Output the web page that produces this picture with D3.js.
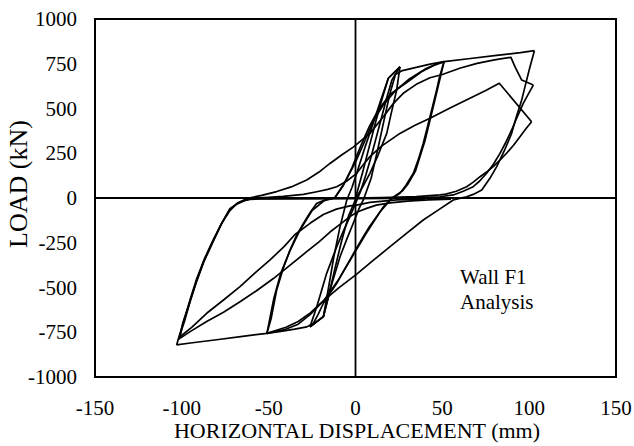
<!DOCTYPE html>
<html>
<head>
<meta charset="utf-8">
<script src="https://cdn.jsdelivr.net/npm/d3@7"></script>
<style>
  html, body { margin: 0; padding: 0; background: #fff; }
  svg { display: block; }
  text { font-family: "Liberation Serif", "Times New Roman", serif; fill: #000; }
</style>
</head>
<body>
<svg id="chart" width="634" height="446"></svg>
<script>
// Axis tick values
const xTicks = [-150, -100, -50, 0, 50, 100, 150];
const yTicks = [-1000, -750, -500, -250, 0, 250, 500, 750, 1000];

// Load-displacement branches, [displacement mm, load kN]
// ±25 mm cycles
const c25Load = [[0,0],[4,140],[8,290],[12,440],[15.5,560],[18.9,669],[25.6,733]];
const c25Down1 = [[25.6,733],[23.7,603],[20.5,470],[18,361],[13,240],[8.3,138],[4,60],[0.7,7],[-4,-100],[-8,-240],[-12,-400],[-15.5,-550],[-18.5,-663],[-26.2,-719]];
const c25Up1 = [[-26.2,-719],[-22.3,-607],[-16.6,-421],[-10.8,-272],[-7,-185],[-3.2,-104],[0,-30],[3,40],[6,130],[9,230],[12,340],[15,450],[18,560],[21,660],[25.6,733]];
const c25Down2 = [[25.6,733],[18.9,669],[14,530],[10.2,417],[5,270],[0.7,138],[-2,60],[-5,-11],[-8.9,-160],[-12.5,-330],[-15.5,-500],[-18.5,-663],[-26.2,-719]];
const c25Up2 = [[-26.2,-719],[-18.5,-663],[-14.7,-514],[-8.9,-328],[-5,-230],[-1.3,-141],[2,-60],[4.5,-11],[9,110],[13,280],[17,460],[20,590],[23,690],[27,712],[35,730],[43,748],[51,762]];

// ±50 mm cycles
const c50Down1 = [[51,762],[48.5,680],[46.7,603],[42.9,454],[39,305],[36,210],[33.3,138],[29,70],[25.6,26],[19.9,-11],[16,-50],[12.2,-104],[8,-160],[4.5,-216],[0,-290],[-3.2,-346],[-7,-410],[-10.8,-477],[-14.5,-530],[-18.5,-588],[-21.5,-650],[-24.3,-700],[-28,-720],[-35,-733],[-43,-745],[-51,-756]];
const c50Up1 = [[-51,-756],[-48.5,-670],[-45.4,-514],[-41.5,-390],[-37.7,-291],[-34,-210],[-30,-142],[-26,-80],[-22.3,-30],[-16,-5],[-12,0],[-7,70],[-2,170],[3,290],[8,400],[13,490],[20,580],[29.5,645],[38,705],[45,740],[51,762]];
const c50Down2 = [[51,762],[47.5,620],[43.8,470],[40,320],[34.5,150],[30,75],[27,40],[21,0],[14,-80],[6,-200],[-2,-330],[-10,-460],[-18,-570],[-26,-650],[-33,-705],[-40.6,-735],[-51,-756]];
const c50Up2 = [[-51,-756],[-47,-560],[-43,-420],[-38,-300],[-32,-180],[-25,-70],[-18,-15],[-12,0],[-6,90],[0,200],[5,310],[10.2,430],[16,520],[23,600],[31,665],[40,720],[47,750],[51,762],[65,778],[80,795],[95,812],[103,823]];

// ±100 mm cycles
const c100Down1 = [[103,823],[100,715],[97.6,622],[95.7,547],[92.5,450],[89.9,361],[85.5,260],[81.3,175],[77.4,110],[72.7,45],[67.8,20],[64,7],[60,-2],[56.3,-11],[48,-65],[39,-123],[29,-200],[19.9,-272],[10,-350],[0.7,-425],[-10,-505],[-18.5,-575],[-26,-642],[-33,-690],[-40,-722],[-51,-756],[-65,-773],[-80,-792],[-95,-810],[-103,-821]];
const c100Up1 = [[-103,-821],[-99,-690],[-95,-560],[-91.4,-450],[-87,-340],[-82,-235],[-77,-140],[-72.3,-70],[-68,-28],[-63.6,-8],[-60,3],[-54,15],[-45.4,36],[-37,62],[-28.1,101],[-21,145],[-14.7,193],[-8,240],[-1.3,284],[8.3,361],[16,454],[22,530],[27.5,585],[35,635],[42.9,672],[50,690],[60,725],[70,752],[80,772],[89.5,786],[92,730],[95.7,659],[102.4,631]];
const c100Down2 = [[102.4,631],[99.5,580],[96.6,529],[93,450],[89.9,380],[86.5,310],[83.2,249],[79.5,190],[75.5,138],[71.5,95],[67.8,63],[62,38],[56.3,17],[48.6,7],[35,2],[20,-2],[0,-4],[-20,-4],[-40,-3],[-55,-3],[-60,-5],[-63.6,-12],[-68,-30],[-72.3,-60],[-77,-140],[-82,-240],[-87,-345],[-91.4,-460],[-95,-570],[-98.5,-690],[-102,-790]];
const c100Up2 = [[-102,-790],[-95,-745],[-85.7,-690],[-76,-638],[-66.5,-580],[-57,-518],[-47.3,-450],[-38,-378],[-28.1,-300],[-21,-245],[-14.7,-190],[-8,-140],[-3.2,-104],[1,-78],[6.4,-58],[12,-40],[20,-27],[30,-17],[42,-10],[55,-6]];
const c100Up3 = [[-62,-2],[-50,4],[-41.6,9],[-30,20],[-22.3,35],[-16,48],[-10.8,63],[-5,95],[0.7,138],[4,180],[8.3,231],[15,290],[25.6,361],[34,405],[42.9,445],[55,505],[65.9,557],[75,600],[82.8,641],[101.4,426]];
const c100Down3 = [[101.4,426],[98,385],[94.7,342],[91,295],[87,250],[83,210],[79.3,175],[75.5,145],[71.7,119],[68,90],[64,63],[58,38],[52,22],[48.6,17],[35,8],[15,2],[-10,-2],[-35,-4],[-55,-5],[-61,-8],[-64,-15],[-68.5,-35],[-72.5,-65],[-77.5,-150],[-82.5,-255],[-87.5,-360],[-92,-480],[-96,-600],[-99.5,-700],[-101,-775]];
const c100Up4 = [[-101,-775],[-94,-720],[-85.7,-644],[-76,-570],[-66.5,-495],[-58,-420],[-49.2,-346],[-41,-270],[-35,-205],[-26,-140],[-18.5,-92],[-11,-62],[-3.2,-44],[0.7,-40],[8.3,-24],[23.7,-11],[40,-6]];

const branches = [
  c25Load, c25Down1, c25Up1, c25Down2, c25Up2,
  c50Down1, c50Up1, c50Down2, c50Up2,
  c100Down1, c100Up1, c100Down2, c100Up2, c100Up3, c100Down3, c100Up4
];

const svg = d3.select("#chart");
const plot = { left: 95, right: 616, top: 19, bottom: 377 };

const x = d3.scaleLinear().domain([-150, 150]).range([plot.left, plot.right]);
const y = d3.scaleLinear().domain([-1000, 1000]).range([plot.bottom, plot.top]);

// Tick labels
svg.append("g").selectAll("text").data(yTicks).join("text")
  .attr("x", 77).attr("y", d => y(d))
  .attr("text-anchor", "end").attr("dominant-baseline", "central")
  .style("font-size", "21px")
  .text(d => d);

svg.append("g").selectAll("text").data(xTicks).join("text")
  .attr("x", d => x(d)).attr("y", 415)
  .attr("text-anchor", "middle")
  .style("font-size", "21px")
  .text(d => d);

// Axis titles
svg.append("text")
  .attr("x", 357).attr("y", 438)
  .attr("text-anchor", "middle")
  .style("font-size", "22px")
  .text("HORIZONTAL DISPLACEMENT (mm)");

svg.append("text")
  .attr("transform", `translate(27,184) rotate(-90)`)
  .attr("text-anchor", "middle")
  .style("font-size", "26px")
  .text("LOAD (kN)");

// Hysteresis curves
const line = d3.line().x(d => x(d[0])).y(d => y(d[1])).curve(d3.curveLinear);
svg.append("g")
  .selectAll("path").data(branches).join("path")
  .attr("d", line)
  .attr("fill", "none").attr("stroke", "#000")
  .attr("stroke-width", 1.7).attr("stroke-linejoin", "round");

// Zero axes
svg.append("line")
  .attr("x1", plot.left).attr("x2", plot.right)
  .attr("y1", y(0)).attr("y2", y(0))
  .attr("stroke", "#000").attr("stroke-width", 2);
svg.append("line")
  .attr("x1", x(0)).attr("x2", x(0))
  .attr("y1", plot.top).attr("y2", plot.bottom)
  .attr("stroke", "#000").attr("stroke-width", 1.8);

// Plot frame
svg.append("rect")
  .attr("x", plot.left).attr("y", plot.top)
  .attr("width", plot.right - plot.left).attr("height", plot.bottom - plot.top)
  .attr("fill", "none").attr("stroke", "#000").attr("stroke-width", 2);

// Annotation
const note = svg.append("text").attr("x", 460).attr("y", 284).style("font-size", "21px");
note.append("tspan").attr("x", 460).text("Wall F1");
note.append("tspan").attr("x", 460).attr("dy", 25).text("Analysis");
</script>
</body>
</html>
